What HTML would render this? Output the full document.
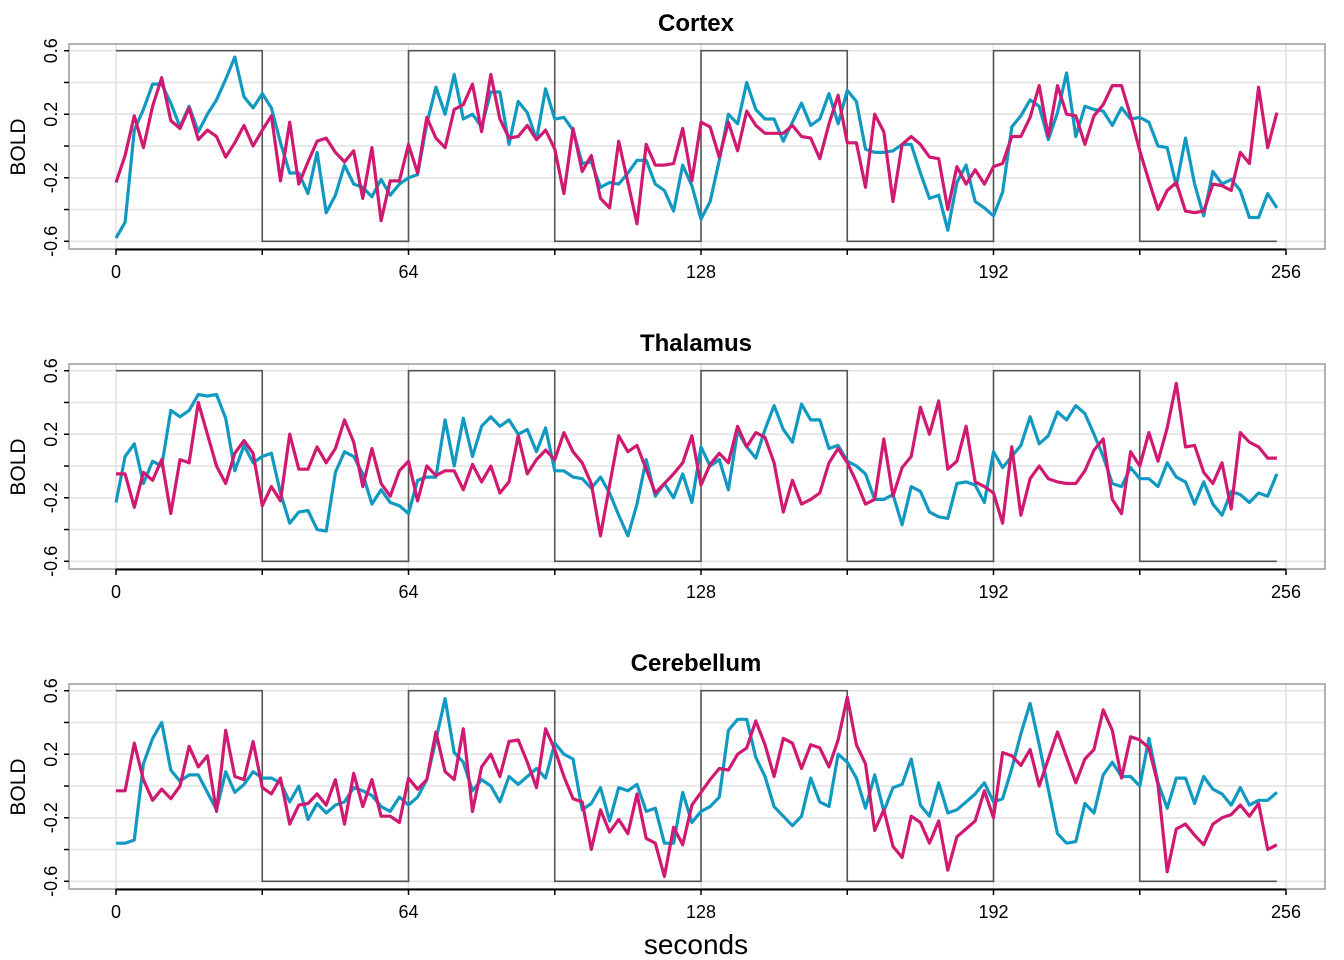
<!DOCTYPE html>
<html><head><meta charset="utf-8"><style>
html,body{margin:0;padding:0;background:#fff;}
svg{display:block;font-family:"Liberation Sans",Arial,sans-serif;}
</style></head><body>
<svg id="chart" width="1344" height="960" viewBox="0 0 1344 960"></svg>
<script>
const tickLabelsX = ["0","64","128","192","256"];
const tickValsX = [0,64,128,192,256];
const tickValsY = [0.6,0.4,0.2,0,-0.2,-0.4,-0.6];
const tickLabelsY = ["0.6","","0.2","","-0.2","","-0.6"];
const regions = ["Cortex","Thalamus","Cerebellum"];
const blockOn = [0,64,128,192];
const blockLen = 32;
const blockEnd = 254;

const cortexBlue = [-0.58,-0.48,0.10,0.23,0.39,0.39,0.27,0.12,0.25,0.09,0.20,0.29,0.42,0.56,0.31,0.24,0.33,0.24,0.02,-0.17,-0.17,-0.30,-0.04,-0.42,-0.31,-0.12,-0.24,-0.26,-0.32,-0.21,-0.31,-0.24,-0.20,-0.18,0.14,0.37,0.20,0.45,0.17,0.20,0.12,0.34,0.34,0.01,0.28,0.21,0.04,0.36,0.17,0.18,0.10,-0.11,-0.10,-0.26,-0.23,-0.24,-0.17,-0.09,-0.09,-0.24,-0.28,-0.41,-0.12,-0.25,-0.46,
-0.35,-0.09,0.20,0.14,0.40,0.23,0.17,0.17,0.03,0.15,0.27,0.13,0.17,0.33,0.14,0.35,0.28,-0.02,-0.04,-0.04,-0.03,0.01,0.01,-0.17,-0.33,-0.31,-0.53,-0.23,-0.12,-0.35,-0.39,-0.44,-0.29,0.12,0.19,0.29,0.25,0.04,0.21,0.46,0.06,0.25,0.23,0.22,0.13,0.24,0.17,0.18,0.15,0.00,-0.01,-0.25,0.05,-0.24,-0.44,-0.16,-0.24,-0.21,-0.28,-0.45,-0.45,-0.30,-0.39];
const cortexMagenta = [-0.23,-0.06,0.19,-0.01,0.25,0.43,0.16,0.11,0.24,0.04,0.10,0.06,-0.07,0.02,0.13,0.00,0.10,0.19,-0.22,0.15,-0.24,-0.10,0.03,0.05,-0.04,-0.10,-0.03,-0.33,-0.01,-0.47,-0.22,-0.22,0.01,-0.17,0.18,0.05,-0.01,0.23,0.26,0.39,0.09,0.45,0.17,0.05,0.06,0.13,0.04,0.10,-0.02,-0.30,0.11,-0.16,-0.06,-0.33,-0.39,0.03,-0.23,-0.49,0.01,-0.12,-0.12,-0.11,0.11,-0.22,0.15,
0.12,-0.07,0.15,-0.03,0.22,0.13,0.08,0.08,0.08,0.13,0.06,0.05,-0.08,0.14,0.32,0.02,0.02,-0.26,0.20,0.09,-0.35,0.01,0.06,0.01,-0.07,-0.08,-0.40,-0.13,-0.24,-0.15,-0.24,-0.13,-0.11,0.06,0.06,0.18,0.38,0.06,0.38,0.20,0.19,0.01,0.19,0.26,0.38,0.38,0.19,-0.03,-0.22,-0.40,-0.28,-0.23,-0.41,-0.42,-0.41,-0.24,-0.25,-0.28,-0.04,-0.11,0.37,-0.01,0.21];
const thalamusBlue = [-0.23,0.06,0.14,-0.11,0.03,0.00,0.35,0.31,0.35,0.45,0.44,0.45,0.30,-0.03,0.13,0.02,0.06,0.08,-0.17,-0.36,-0.29,-0.28,-0.40,-0.41,-0.04,0.09,0.06,-0.05,-0.24,-0.15,-0.23,-0.25,-0.30,-0.09,-0.07,-0.07,0.29,0.00,0.30,0.06,0.25,0.31,0.25,0.29,0.20,0.23,0.09,0.24,-0.03,-0.03,-0.07,-0.08,-0.14,-0.07,-0.17,-0.31,-0.44,-0.24,0.04,-0.19,-0.11,-0.20,-0.05,-0.23,0.12,
0.00,0.04,-0.15,0.22,0.12,0.05,0.23,0.38,0.23,0.15,0.39,0.29,0.29,0.11,0.13,0.03,0.00,-0.05,-0.21,-0.21,-0.18,-0.37,-0.13,-0.16,-0.29,-0.32,-0.33,-0.11,-0.10,-0.12,-0.23,0.09,-0.01,0.06,0.13,0.31,0.14,0.19,0.34,0.29,0.38,0.33,0.20,0.06,-0.11,-0.13,-0.01,-0.08,-0.08,-0.13,0.02,-0.07,-0.10,-0.24,-0.10,-0.24,-0.31,-0.16,-0.18,-0.23,-0.17,-0.19,-0.05];
const thalamusMagenta = [-0.05,-0.05,-0.26,-0.04,-0.09,0.04,-0.30,0.04,0.02,0.40,0.20,0.00,-0.11,0.08,0.16,0.08,-0.25,-0.13,-0.22,0.20,-0.02,-0.02,0.12,0.02,0.11,0.29,0.15,-0.13,0.11,-0.11,-0.19,-0.03,0.03,-0.22,0.00,-0.06,-0.03,-0.03,-0.15,0.01,-0.10,0.00,-0.17,-0.10,0.19,-0.05,0.04,0.10,0.04,0.21,0.09,0.02,-0.11,-0.44,-0.12,0.19,0.09,0.13,-0.02,-0.17,-0.11,-0.05,0.02,0.19,-0.12,
0.01,0.08,0.02,0.25,0.12,0.21,0.18,0.02,-0.29,-0.09,-0.24,-0.21,-0.17,0.02,0.11,0.02,-0.10,-0.24,-0.21,0.17,-0.19,-0.01,0.06,0.37,0.20,0.41,-0.02,0.03,0.25,-0.10,-0.13,-0.17,-0.36,0.12,-0.31,-0.08,0.00,-0.08,-0.10,-0.11,-0.11,-0.03,0.10,0.17,-0.21,-0.30,0.09,0.00,0.21,0.03,0.24,0.52,0.12,0.13,-0.04,-0.11,0.02,-0.27,0.21,0.15,0.12,0.05,0.05];
const cerebellumBlue = [-0.36,-0.36,-0.34,0.14,0.30,0.40,0.10,0.03,0.07,0.07,-0.04,-0.15,0.09,-0.04,0.01,0.09,0.05,0.05,0.02,-0.10,0.00,-0.21,-0.11,-0.17,-0.12,-0.10,-0.01,-0.03,-0.06,-0.13,-0.16,-0.07,-0.12,-0.07,0.04,0.29,0.55,0.21,0.15,-0.03,0.04,0.00,-0.10,0.06,0.01,0.06,0.11,0.05,0.27,0.20,0.17,-0.15,-0.11,-0.01,-0.22,-0.01,-0.03,0.01,-0.16,-0.14,-0.36,-0.36,-0.04,-0.23,-0.16,
-0.13,-0.07,0.35,0.42,0.42,0.18,0.06,-0.13,-0.19,-0.25,-0.19,0.05,-0.10,-0.13,0.20,0.15,0.05,-0.14,0.07,-0.16,-0.01,0.01,0.17,-0.12,-0.19,0.02,-0.17,-0.15,-0.10,-0.05,0.02,-0.10,-0.08,0.11,0.33,0.52,0.26,-0.02,-0.30,-0.36,-0.35,-0.11,-0.17,0.07,0.15,0.06,0.06,0.00,0.30,0.02,-0.14,0.05,0.05,-0.11,0.06,-0.02,-0.05,-0.12,-0.01,-0.12,-0.09,-0.09,-0.04];
const cerebellumMagenta = [-0.03,-0.03,0.27,0.04,-0.09,-0.02,-0.08,0.00,0.25,0.12,0.19,-0.16,0.35,0.06,0.04,0.28,-0.01,-0.05,0.05,-0.24,-0.12,-0.11,-0.05,-0.12,0.04,-0.24,0.08,-0.13,0.04,-0.19,-0.19,-0.23,0.05,-0.02,0.04,0.34,0.09,0.04,0.36,-0.16,0.12,0.20,0.06,0.28,0.29,0.15,-0.01,0.36,0.23,0.06,-0.08,-0.10,-0.40,-0.15,-0.29,-0.21,-0.30,-0.05,-0.33,-0.36,-0.57,-0.26,-0.37,-0.12,-0.04,
0.04,0.11,0.10,0.20,0.24,0.41,0.26,0.06,0.30,0.27,0.11,0.26,0.24,0.12,0.29,0.56,0.26,0.14,-0.28,-0.15,-0.38,-0.45,-0.19,-0.23,-0.36,-0.22,-0.53,-0.32,-0.27,-0.22,-0.03,-0.20,0.21,0.19,0.13,0.23,0.00,0.17,0.34,0.18,0.02,0.17,0.23,0.48,0.35,0.05,0.31,0.29,0.24,0.01,-0.54,-0.27,-0.24,-0.31,-0.37,-0.24,-0.20,-0.18,-0.12,-0.19,-0.11,-0.40,-0.37];

const blueSeries = [cortexBlue, thalamusBlue, cerebellumBlue];
const magentaSeries = [cortexMagenta, thalamusMagenta, cerebellumMagenta];

const NS = "http://www.w3.org/2000/svg";
const svg = document.getElementById('chart');
function mk(tag, attrs, parent){
  const e = document.createElementNS(NS, tag);
  for (const k in attrs) e.setAttribute(k, attrs[k]);
  (parent||svg).appendChild(e);
  return e;
}
const xScale = t => 116 + t * (1170/256);
function yScaleFor(p){ const y0 = 50.7 + p*320; return v => y0 + (0.6 - v) * (190.6/1.2); }
const BOX_L = 69, BOX_R = 1325;

regions.forEach((name, p) => {
  const ys = yScaleFor(p);
  const top = 44 + p*320, bot = 249 + p*320;
  const g = mk('g', {});
  
  

  const title = mk('text', {x: 696, y: 31 + p*320, 'text-anchor':'middle', 'font-size': 24, 'font-weight':'bold', fill:'#000'}, g);
  title.textContent = name;
  
  

  tickValsY.forEach(v => {
    const l = mk('line', {x1: BOX_L, x2: BOX_R, y1: ys(v), y2: ys(v), stroke:'#e3e3e3', 'stroke-width':1.6}, g);
    
    
  });
  tickValsX.forEach(t => {
    const l = mk('line', {x1: xScale(t), x2: xScale(t), y1: top, y2: bot, stroke:'#e3e3e3', 'stroke-width':1.6}, g);
    
    
  });
  const box = mk('rect', {x: BOX_L, y: top, width: BOX_R-BOX_L, height: bot-top, fill:'none', stroke:'#9a9a9a', 'stroke-width':1.5}, g);
  
  

  let d = '';
  blockOn.forEach((s, i) => {
    const a = xScale(s), b = xScale(s + blockLen), c = xScale(Math.min(s + 2*blockLen, blockEnd));
    d += (i===0 ? 'M' : 'L') + a + ' ' + ys(0.6) + ' L' + b + ' ' + ys(0.6) + ' L' + b + ' ' + ys(-0.6) + ' L' + c + ' ' + ys(-0.6);
    if (i < blockOn.length-1) d += ' L' + c + ' ' + ys(0.6) + ' ';
  });
  const stim = mk('path', {d, fill:'none', stroke:'#555', 'stroke-width':1.6}, g);
  
  

  [[blueSeries[p], '#1199c2', 'blue'], [magentaSeries[p], '#d01a72', 'magenta']].forEach(([arr, col, nm]) => {
    const pts = arr.map((v, i) => xScale(i*2).toFixed(1) + ',' + ys(v).toFixed(1)).join(' ');
    const pl = mk('polyline', {points: pts, fill:'none', stroke: col, 'stroke-width': 3.2, 'stroke-linejoin':'round'}, g);
    
    
  });

  const ax = mk('line', {x1: xScale(0), x2: xScale(256), y1: bot+0.5, y2: bot+0.5, stroke:'#000', 'stroke-width':2}, g);
  
  
  for (let t = 0; t <= 256; t += 32) {
    const tk = mk('line', {x1: xScale(t), x2: xScale(t), y1: bot, y2: bot+6, stroke:'#000', 'stroke-width':1.5}, g);
    
    
  }
  tickValsX.forEach((t, i) => {
    const tx = mk('text', {x: xScale(t), y: bot+29, 'text-anchor':'middle', 'font-size':18, fill:'#000'}, g);
    tx.textContent = tickLabelsX[i];
    
    
  });
  tickValsY.forEach((v, i) => {
    const tk = mk('line', {x1: 64, x2: BOX_L, y1: ys(v), y2: ys(v), stroke:'#000', 'stroke-width':1.5}, g);
    
    
    if (tickLabelsY[i]) {
      const tx = mk('text', {x: 0, y: 0, 'text-anchor':'middle', 'font-size':18, fill:'#000', transform:`translate(57,${ys(v)}) rotate(-90)`}, g);
      tx.textContent = tickLabelsY[i];
      
      
    }
  });
  const yl = mk('text', {x:0, y:0, 'text-anchor':'middle', 'font-size':21, fill:'#000', transform:`translate(25,${147+p*320}) rotate(-90)`}, g);
  yl.textContent = 'BOLD';
  
  
});
const xl = mk('text', {x: 696, y: 954, 'text-anchor':'middle', 'font-size':28, fill:'#000'});
xl.textContent = 'seconds';


</script>
</body></html>
